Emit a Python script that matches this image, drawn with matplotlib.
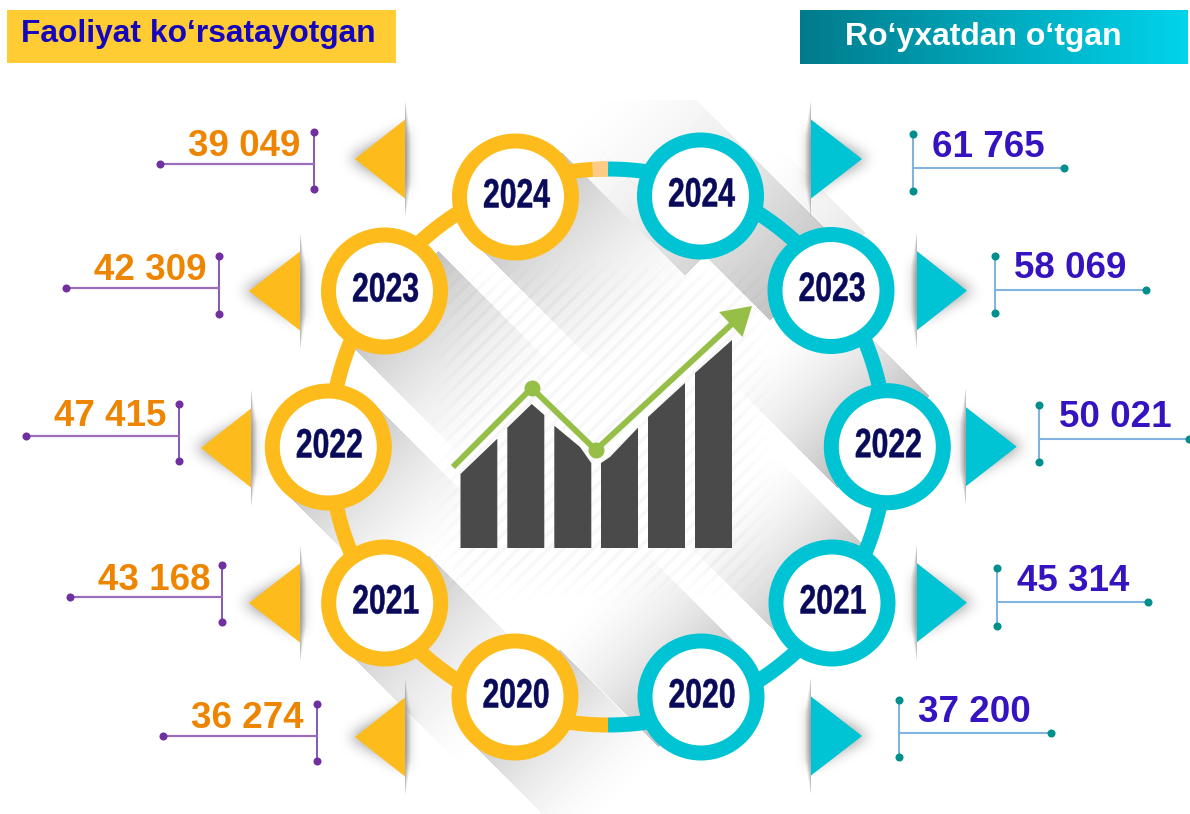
import numpy as np
import matplotlib
matplotlib.use("Agg")
import matplotlib.pyplot as plt
from matplotlib.patches import Circle, Polygon, Rectangle
from matplotlib.path import Path
from matplotlib.patheffects import AbstractPathEffect
from matplotlib.transforms import Affine2D

# ---------- data ----------
years = [2024, 2023, 2022, 2021, 2020]
active = [39049, 42309, 47415, 43168, 36274]
registered = [61765, 58069, 50021, 45314, 37200]
title_active = "Faoliyat ko‘rsatayotgan"
title_registered = "Ro‘yxatdan o‘tgan"

# ---------- layout (pixels) ----------
W, H = 1190, 814
YEL, TEAL = "#FDBC1B", "#00C4D3"
cent_l = [(515.5, 197), (384.5, 291), (328.3, 447), (384.7, 603), (515, 697)]
cent_r = [(700.5, 196), (831, 290.5), (887.3, 446.7), (832, 603), (701, 697)]
tri_l = [(355, 405, 159), (249, 300, 291), (201, 251, 448), (249, 300, 603), (355, 405, 737)]
tri_r = [(862, 811, 159), (967, 917, 290.7), (1016.7, 966, 446.7), (967, 917, 602.7), (862, 811, 736)]
# x of stem, y top, y bottom, y of rule, far end of rule, text edge, text baseline y
ann_l = [(313.5, 131.7, 189, 163.7, 160.3, 300, 155.5),
         (219, 256, 314, 288, 66, 207, 279.5),
         (179, 404, 461, 436, 26, 166, 426.5),
         (222, 565, 622, 597, 70, 210, 589.5),
         (317, 704, 761, 736, 163, 304, 727.5)]
ann_r = [(913, 134, 191, 168, 1064.3, 932, 157),
         (995, 256, 313, 290, 1146, 1014, 277.5),
         (1039.3, 405, 462, 438.7, 1188.7, 1058.7, 427),
         (997.3, 568.3, 625.7, 602, 1148.3, 1017, 591),
         (899, 700, 757, 733, 1051, 918, 721.5)]

# diagonal fold bands: d0, d1 (x-y), s0, s1 (x+y), strength, rising?
bands = [(450, 596, 680, 1090, .24, True), (410, 450, 680, 960, .16, True),
         (596, 632, 906, 1098, .10, True), (350, 533, 1100, 1325, .27, True),
         (144, 318, 1218, 1420, .24, True), (-88, 92, 1180, 1405, .26, True),
         (232, 409, 715, 1000, .24, False), (6, 187, 690, 940, .24, False),
         (-207, -30, 775, 1010, .24, False), (-304, -127, 985, 1240, .22, False),
         (-271, -90, 1210, 1428, .22, False)]

yy, xx = np.mgrid[0:H, 0:W] + 0.5
d, s = xx - yy, xx + yy
shade = np.ones((H, W))
for d0, d1, s0, s1, amax, rising in bands:
    t = np.clip((s - s0) / (s1 - s0), 0, 1)
    t = t if rising else 1 - t
    m = (d >= d0) & (d <= d1) & (s >= s0) & (s <= s1) & (yy >= 100)
    shade *= 1 - amax * m * t ** 1.6

# hatch rectangle, softened towards its borders
edge = np.minimum.reduce([xx - 430, 775 - xx, yy - 257, 605 - yy])
hm = np.clip(edge / 40, 0, 1) * (np.mod(s, 15) < 5)
shade *= 1 - 0.032 * hm


def blur(a, sig):
    r = int(3 * sig)
    k = np.exp(-0.5 * (np.arange(-r, r + 1) / sig) ** 2)
    k /= k.sum()
    a = np.apply_along_axis(lambda v: np.convolve(v, k, "same"), 0, a)
    return np.apply_along_axis(lambda v: np.convolve(v, k, "same"), 1, a)


for apex, base, yc in tri_l + tri_r:
    x0, x1 = int(min(apex, base)) - 45, int(max(apex, base)) + 45
    y0, y1 = int(yc) - 70, int(yc) + 70
    x0c, x1c = max(x0, 0), min(x1, W)
    sub = np.c_[xx[y0:y1, x0c:x1c].ravel(), yy[y0:y1, x0c:x1c].ravel()]
    dir_ = np.sign(apex - base)
    tri = Path([(apex + dir_ * 6, yc), (base, yc - 30), (base, yc + 30)])
    mask = tri.contains_points(sub).reshape(y1 - y0, x1c - x0c).astype(float)
    shade[y0:y1, x0c:x1c] *= 1 - 0.42 * blur(mask, 7)


class Squeeze(AbstractPathEffect):
    """Narrow a text horizontally about an anchor, keeping it a text artist."""

    def __init__(self, cx, f, width):
        super().__init__()
        self.cx, self.f, self.width = cx, f, width

    def draw_path(self, renderer, gc, tpath, affine, rgbFace=None):
        a = affine + Affine2D().translate(-self.cx, 0).scale(self.f, 1).translate(self.cx, 0)
        gc.set_linewidth(self.width)
        gc.set_foreground(rgbFace)
        renderer.draw_path(gc, tpath, a, rgbFace)


# ---------- figure ----------
fig = plt.figure(figsize=(W / 100, H / 100), dpi=100)
ax = fig.add_axes([0, 0, 1, 1])
ax.set_xlim(0, W)
ax.set_ylim(H, 0)
ax.axis("off")
ax.imshow(shade, cmap="gray", vmin=0, vmax=1, extent=(0, W, H, 0), zorder=0,
          aspect="auto", interpolation="bilinear")

# header boxes
ax.add_patch(Rectangle((7, 10), 389, 53, fc="#FFCC33", ec="none", zorder=2))
g0, g1 = np.array([0, 123, 140]) / 255, np.array([0, 212, 235]) / 255
grad = g0 + np.linspace(0, 1, 256)[None, :, None] * (g1 - g0)
ax.imshow(grad, extent=(800, 1188, 64, 10), aspect="auto", zorder=2)
ax.set_xlim(0, W)
ax.set_ylim(H, 0)
FONT = "Liberation Sans"
ax.text(21, 41.7, title_active, family=FONT, weight="bold", fontsize=22.9, color="#1505BB",
        ha="left", va="baseline", zorder=5)
ax.text(845, 45, title_registered, family=FONT, weight="bold", fontsize=23, color="white",
        ha="left", va="baseline", zorder=5)

# ring
CX, CY, R = 608, 447, 278
th = np.radians(np.linspace(90, 270, 200))
ax.plot(CX + R * np.cos(th), CY - R * np.sin(th), color=YEL, lw=10.8, solid_capstyle="butt", zorder=3)
ax.plot(CX - R * np.cos(th), CY - R * np.sin(th), color=TEAL, lw=10.8, solid_capstyle="butt", zorder=3)
th = np.radians(np.linspace(90, 93.2, 20))
ax.plot(CX + R * np.cos(th), CY - R * np.sin(th), color="#FDCB85", lw=10.8, solid_capstyle="butt", zorder=3)

# year discs
for cents, col in ((cent_l, YEL), (cent_r, TEAL)):
    for (cx, cy), yr in zip(cents, years):
        ax.add_patch(Circle((cx, cy), 63.5, fc=col, ec="none", zorder=4))
        ax.add_patch(Circle((cx, cy), 48.5, fc="white", ec="none", zorder=4))
        t = ax.text(cx + 1, cy + 10.5, str(yr), family=FONT, weight="bold", fontsize=29.5,
                    color="#0A0A5A", ha="center", va="baseline", zorder=5)
        t.set_path_effects([Squeeze(cx + 1, 0.735, 0.35)])

# triangles with slivers
for tris, col in ((tri_l, YEL), (tri_r, TEAL)):
    for apex, base, yc in tris:
        sgn = -np.sign(apex - base)
        for w, a in ((5.5, .16), (3.5, .22), (1.8, .3)):
            ax.add_patch(Polygon([(base, yc - 58), (base + sgn * w, yc - 25), (base + sgn * w, yc + 25),
                                  (base, yc + 58)], fc="#808080", ec="none", alpha=a, zorder=2))
        ax.add_patch(Polygon([(apex, yc), (base, yc - 39.5), (base, yc + 39.5)], fc=col, ec="none", zorder=3))


def fmt(v):
    return f"{v:,}".replace(",", " ")


# annotations
for a, v in zip(ann_l, active):
    x, yt, yb, yh, xe, tx, ty = a
    ax.plot([x, x], [yt, yb], color="#7E4BA8", lw=1.3, zorder=3)
    ax.plot([xe, x], [yh, yh], color="#9A6CBC", lw=1.6, zorder=3)
    ax.plot([x, x, xe], [yt, yb, yh], ls="none", marker="o", ms=5.8, color="#7030A0", mec="none", zorder=4)
    ax.text(tx, ty, fmt(v), family=FONT, weight="bold", fontsize=26.5, color="#EE8500",
            ha="right", va="baseline", zorder=5)
for a, v in zip(ann_r, registered):
    x, yt, yb, yh, xe, tx, ty = a
    ax.plot([x, x], [yt, yb], color="#80B4DE", lw=1.5, zorder=3)
    ax.plot([xe, x], [yh, yh], color="#80B4DE", lw=1.5, zorder=3)
    ax.plot([x, x, xe], [yt, yb, yh], ls="none", marker="o", ms=5.8, color="#008F8C", mec="none", zorder=4)
    ax.text(tx, ty, fmt(v), family=FONT, weight="bold", fontsize=26.5, color="#3513C0",
            ha="left", va="baseline", zorder=5)

# central icon
GREY = "#4A4A4A"
bars = [[(460.5, 548), (460.5, 474), (497.3, 438.7), (497.3, 548)],
        [(507.3, 548), (507.3, 427.7), (531.7, 404), (544.3, 415), (544.3, 548)],
        [(554.3, 548), (554.3, 425.7), (580, 447), (591.3, 463), (591.3, 548)],
        [(601, 548), (601, 463), (610, 457), (638, 427.7), (638, 548)],
        [(648, 548), (648, 417), (685, 383), (685, 548)],
        [(695, 548), (695, 373), (732, 340), (732, 548)]]
for b in bars:
    ax.add_patch(Polygon(b, fc=GREY, ec="none", zorder=3))
GREEN = "#96BF48"
ax.plot([455, 531.7, 595.7, 733], [465, 388, 450, 323], color=GREEN, lw=4.2, solid_joinstyle="miter", zorder=3)
ax.plot([531.7, 595.7], [388, 450], ls="none", marker="o", ms=11.5, color=GREEN, mec="none", zorder=4)
ax.add_patch(Polygon([(752, 306), (719, 312), (742.5, 337)], fc=GREEN, ec="none", zorder=4))

fig.savefig("out.png", dpi=100)
